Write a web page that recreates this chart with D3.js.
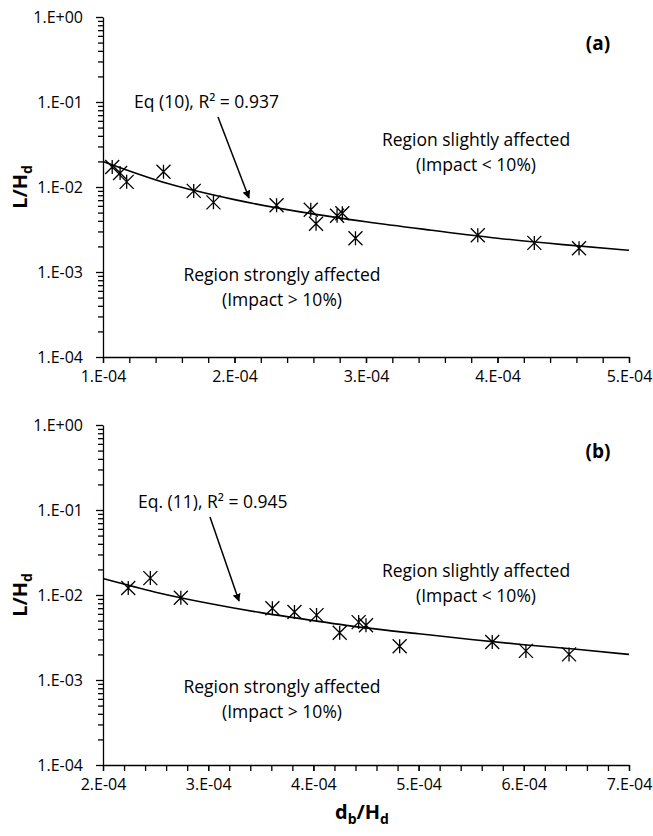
<!DOCTYPE html>
<html>
<head>
<meta charset="utf-8">
<script src="https://d3js.org/d3.v7.min.js"></script>
<style>
  body { margin: 0; background: #fff; }
  text { font-family: "Open Sans", "Noto Sans", sans-serif; fill: #000; }
  .tick text { font-size: 16px; }
  .axis path, .axis line { stroke: #000; stroke-width: 1.3; }
  .note { font-size: 17.5px; }
  .axisTitle { font-size: 20px; font-weight: bold; }
  .panelTag { font-size: 19px; font-weight: bold; }
</style>
</head>
<body>
<script>
// data (x values in units of 1E-04)
var xA = [1.07, 1.13, 1.18, 1.46, 1.69, 1.84, 2.32, 2.58, 2.62, 2.78, 2.82, 2.92, 3.85, 4.28, 4.62];
var yA = [0.0172, 0.0146, 0.0115, 0.0151, 0.0090, 0.0066, 0.0061, 0.0054, 0.0037, 0.0046, 0.0049, 0.0025, 0.0027, 0.0022, 0.0019];
var fitXA = [1.0, 1.5, 2.0, 2.5, 3.0, 3.5, 4.0, 4.5, 5.0];
var fitYA = [0.0200, 0.0109, 0.0071, 0.0051, 0.0039, 0.0031, 0.0025, 0.0021, 0.0018];

var xB = [2.24, 2.45, 2.74, 3.61, 3.82, 4.03, 4.25, 4.43, 4.50, 4.82, 5.70, 6.02, 6.43];
var yB = [0.0121, 0.0158, 0.0093, 0.0070, 0.0063, 0.0058, 0.0036, 0.0048, 0.0044, 0.0025, 0.0028, 0.0022, 0.0020];
var fitXB = [2.0, 2.5, 3.0, 3.5, 4.0, 4.5, 5.0, 5.5, 6.0, 6.5, 7.0];
var fitYB = [0.0156, 0.0108, 0.0080, 0.0062, 0.0050, 0.0041, 0.0035, 0.0030, 0.0026, 0.0023, 0.0020];

// tick labels
var yTicks = [1, 0.1, 0.01, 0.001, 0.0001];
var yTickLabels = ["1.E+00", "1.E-01", "1.E-02", "1.E-03", "1.E-04"];
var xTicksA = [1, 2, 3, 4, 5];
var xTickLabelsA = ["1.E-04", "2.E-04", "3.E-04", "4.E-04", "5.E-04"];
var xTicksB = [2, 3, 4, 5, 6, 7];
var xTickLabelsB = ["2.E-04", "3.E-04", "4.E-04", "5.E-04", "6.E-04", "7.E-04"];

window.onload = function(){
    var w = 653, h = 836;
    var svg = d3.select("body").append("svg")
        .attr("width", w)
        .attr("height", h);

    // arrow head for the equation callouts
    svg.append("defs").append("marker")
        .attr("id", "arrow")
        .attr("viewBox", "0 0 10 10")
        .attr("refX", 9).attr("refY", 5)
        .attr("markerWidth", 8).attr("markerHeight", 8)
        .attr("markerUnits", "userSpaceOnUse")
        .attr("orient", "auto")
        .append("path")
        .attr("d", "M0,0 L10,5 L0,10 z")
        .style("fill", "#000");

    var left = 103, right = 629;

    function panel(cfg){
        var x = d3.scaleLinear().domain(cfg.xDomain).range([left, right]);
        var y = d3.scaleLog().domain([0.0001, 1]).range([cfg.bottom, cfg.top]);
        var g = svg.append("g").attr("class", cfg.cls);

        // minor ticks (x every 0.2E-04, y at 2..9 of each decade)
        var xMinor = d3.range(cfg.xDomain[0], cfg.xDomain[1] + 0.001, 0.2);
        var yMinor = [];
        [0.0001, 0.001, 0.01, 0.1].forEach(function(d){
            for (var k = 2; k <= 9; k++) yMinor.push(d * k);
        });

        g.append("g")
            .attr("class", "axis")
            .attr("transform", "translate(0," + cfg.bottom + ")")
            .call(d3.axisBottom(x).tickValues(xMinor).tickSize(6).tickFormat(""))
            .call(function(s){ s.select(".domain").remove(); });
        g.append("g")
            .attr("class", "axis")
            .attr("transform", "translate(" + left + ",0)")
            .call(d3.axisLeft(y).tickValues(yMinor).tickSize(5).tickFormat(""))
            .call(function(s){ s.select(".domain").remove(); });

        // major axes with labels
        g.append("g")
            .attr("class", "axis")
            .attr("transform", "translate(0," + cfg.bottom + ")")
            .call(d3.axisBottom(x).tickValues(cfg.xTicks).tickSize(6).tickSizeOuter(0).tickPadding(8)
                .tickFormat(function(d, i){ return cfg.xLabels[i]; }));
        g.append("g")
            .attr("class", "axis")
            .attr("transform", "translate(" + left + ",0)")
            .call(d3.axisLeft(y).tickValues(yTicks).tickSize(7).tickSizeOuter(0).tickPadding(13)
                .tickFormat(function(d, i){ return yTickLabels[i]; }));

        // y axis title L/Hd
        var yt = g.append("text")
            .attr("class", "axisTitle")
            .attr("text-anchor", "middle")
            .attr("transform", "translate(27," + ((cfg.top + cfg.bottom) / 2) + ") rotate(-90)");
        yt.append("tspan").text("L/H");
        yt.append("tspan").attr("dy", 5).style("font-size", "14px").text("d");

        // fitted curve
        var line = d3.line()
            .x(function(d){ return x(d[0]); })
            .y(function(d){ return y(d[1]); })
            .curve(d3.curveMonotoneX);
        g.append("path")
            .datum(d3.zip(cfg.fitX, cfg.fitY))
            .attr("d", line)
            .style("fill", "none")
            .style("stroke", "#000")
            .style("stroke-width", 1.6);

        // star markers
        var r = 7;
        g.selectAll(".star")
            .data(d3.zip(cfg.xs, cfg.ys))
            .enter()
            .append("path")
            .attr("class", "star")
            .attr("d", function(d){
                var cx = x(d[0]), cy = y(d[1]);
                return "M" + (cx - r) + "," + (cy - r) + "L" + (cx + r) + "," + (cy + r) +
                       "M" + (cx - r) + "," + (cy + r) + "L" + (cx + r) + "," + (cy - r) +
                       "M" + cx + "," + (cy - r) + "L" + cx + "," + (cy + r);
            })
            .style("stroke", "#000")
            .style("stroke-width", 1.3)
            .style("fill", "none");

        // equation label + arrow
        g.append("text")
            .attr("class", "note")
            .attr("x", cfg.eqX).attr("y", cfg.top + cfg.eqY)
            .text(cfg.eqText);
        g.append("line")
            .attr("x1", cfg.arrow[0]).attr("y1", cfg.top + cfg.arrow[1])
            .attr("x2", cfg.arrow[2]).attr("y2", cfg.top + cfg.arrow[3])
            .attr("marker-end", "url(#arrow)")
            .style("stroke", "#000")
            .style("stroke-width", 1.5);

        // region notes
        var notes = [
            ["Region slightly affected", 476, cfg.top + cfg.upY],
            ["(Impact < 10%)", 476, cfg.top + cfg.upY + 25],
            ["Region strongly affected", 282, cfg.top + cfg.lowY],
            ["(Impact > 10%)", 282, cfg.top + cfg.lowY + 25]
        ];
        g.selectAll(".region")
            .data(notes)
            .enter()
            .append("text")
            .attr("class", "note region")
            .attr("text-anchor", "middle")
            .attr("x", function(d){ return d[1]; })
            .attr("y", function(d){ return d[2]; })
            .text(function(d){ return d[0]; });

        // panel tag
        g.append("text")
            .attr("class", "panelTag")
            .attr("text-anchor", "middle")
            .attr("x", 598).attr("y", cfg.top + 33)
            .text(cfg.tag);
    }

    panel({
        cls: "panelA", top: 17, bottom: 357, xDomain: [1, 5],
        xTicks: xTicksA, xLabels: xTickLabelsA,
        xs: xA, ys: yA, fitX: fitXA, fitY: fitYA,
        eqText: "Eq (10), R\u00b2 = 0.937", eqX: 134, eqY: 91,
        arrow: [218, 100, 249, 181], upY: 129, lowY: 264, tag: "(a)"
    });

    panel({
        cls: "panelB", top: 425, bottom: 765, xDomain: [2, 7],
        xTicks: xTicksB, xLabels: xTickLabelsB,
        xs: xB, ys: yB, fitX: fitXB, fitY: fitYB,
        eqText: "Eq. (11), R\u00b2 = 0.945", eqX: 138, eqY: 83,
        arrow: [210, 92, 239, 176], upY: 152, lowY: 268, tag: "(b)"
    });

    // x axis title db/Hd
    var xt = svg.append("text")
        .attr("class", "axisTitle")
        .attr("text-anchor", "middle")
        .attr("x", 362).attr("y", 819);
    xt.append("tspan").text("d");
    xt.append("tspan").attr("dy", 5).style("font-size", "14px").text("b");
    xt.append("tspan").attr("dy", -5).text("/H");
    xt.append("tspan").attr("dy", 5).style("font-size", "14px").text("d");
};
</script>
</body>
</html>
